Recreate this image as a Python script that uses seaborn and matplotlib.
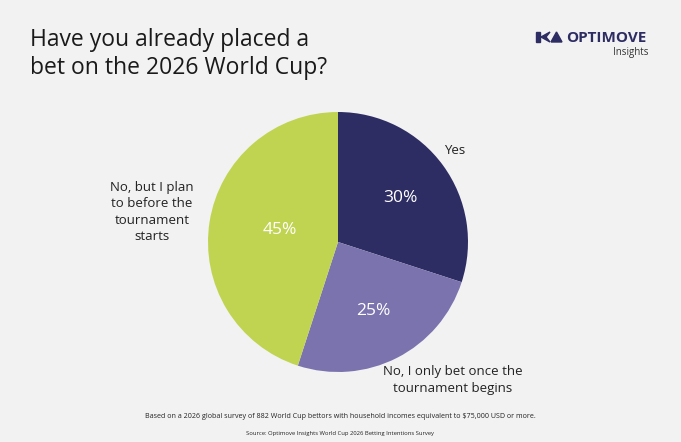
import matplotlib
matplotlib.use("Agg")
import matplotlib.pyplot as plt
import seaborn as sns
from matplotlib.patches import Polygon

# data
answers = ["Yes", "No, I only bet once the\ntournament begins",
           "No, but I plan\nto before the\ntournament\nstarts"]
shares = [30, 25, 45]
pct_labels = ["30%", "25%", "45%"]
colors = ["#2e2d63", "#7b73ad", "#c1d452"]

sns.set_theme(style="white")
plt.rcParams['font.family'] = ['Open Sans', 'DejaVu Sans']

W, H = 681, 442
bg = "#f2f2f2"
fig = plt.figure(figsize=(W / 100, H / 100), dpi=100, facecolor=bg)

# pie centre (338, 242) px, radius 130 px
cx, cy, r = 338, 242, 130
ax = fig.add_axes([(cx - r) / W, (H - cy - r) / H, 2 * r / W, 2 * r / H])
ax.set_facecolor(bg)
wedges, _ = ax.pie(shares, colors=colors, startangle=90, counterclock=False,
                   wedgeprops=dict(linewidth=0))
ax.set_xlim(-1, 1)
ax.set_ylim(-1, 1)
ax.set_aspect("equal")
ax.axis("off")

# percentage labels (in pie units)
pct_pos = [(0.48, 0.34), (0.27, -0.53), (-0.45, 0.09)]
for (x, y), t in zip(pct_pos, pct_labels):
    ax.text(x, y, t, color="white", fontsize=12.5, ha="center", va="center")

# category labels
cat_pos = [(0.90, 0.70), (0.88, -1.06), (-1.43, 0.23)]
for (x, y), t in zip(cat_pos, answers):
    ax.text(x, y, t, color="#222222", fontsize=9.5, ha="center", va="center",
            linespacing=1.35, clip_on=False)

# title
fig.text(30 / W, 1 - 54 / H, "Have you already placed a\nbet on the 2026 World Cup?",
         fontsize=16.5, color="#1a1a1a", ha="left", va="center", linespacing=1.2)

# logo
navy = "#2e2d63"
def px(pts):
    return [(x / W, 1 - y / H) for x, y in pts]
for shape in ([(536, 32), (540, 32), (540, 42), (536, 42)],
              [(541, 37), (550, 32), (546, 37), (550, 42)],
              [(551, 42), (556.5, 32), (562, 42)]):
    fig.patches.append(Polygon(px(shape), closed=True, color=navy,
                               transform=fig.transFigure))
fig.text(566 / W, 1 - 37.5 / H, "OPTIMOVE", fontsize=11, fontweight="bold",
         color=navy, ha="left", va="center")
fig.text(649 / W, 1 - 53 / H, "Insights", fontsize=7, color="#333333",
         ha="right", va="center")

# footnotes
fig.text(340 / W, 1 - 417 / H,
         "Based on a 2026 global survey of 882 World Cup bettors with household incomes "
         "equivalent to $75,000 USD or more.",
         fontsize=5.15, color="#222222", ha="center", va="center")
fig.text(340 / W, 1 - 434 / H,
         "Source: Optimove Insights World Cup 2026 Betting Intentions Survey",
         fontsize=4.2, color="#222222", ha="center", va="center")

fig.savefig("out.png", dpi=100, facecolor=bg)
